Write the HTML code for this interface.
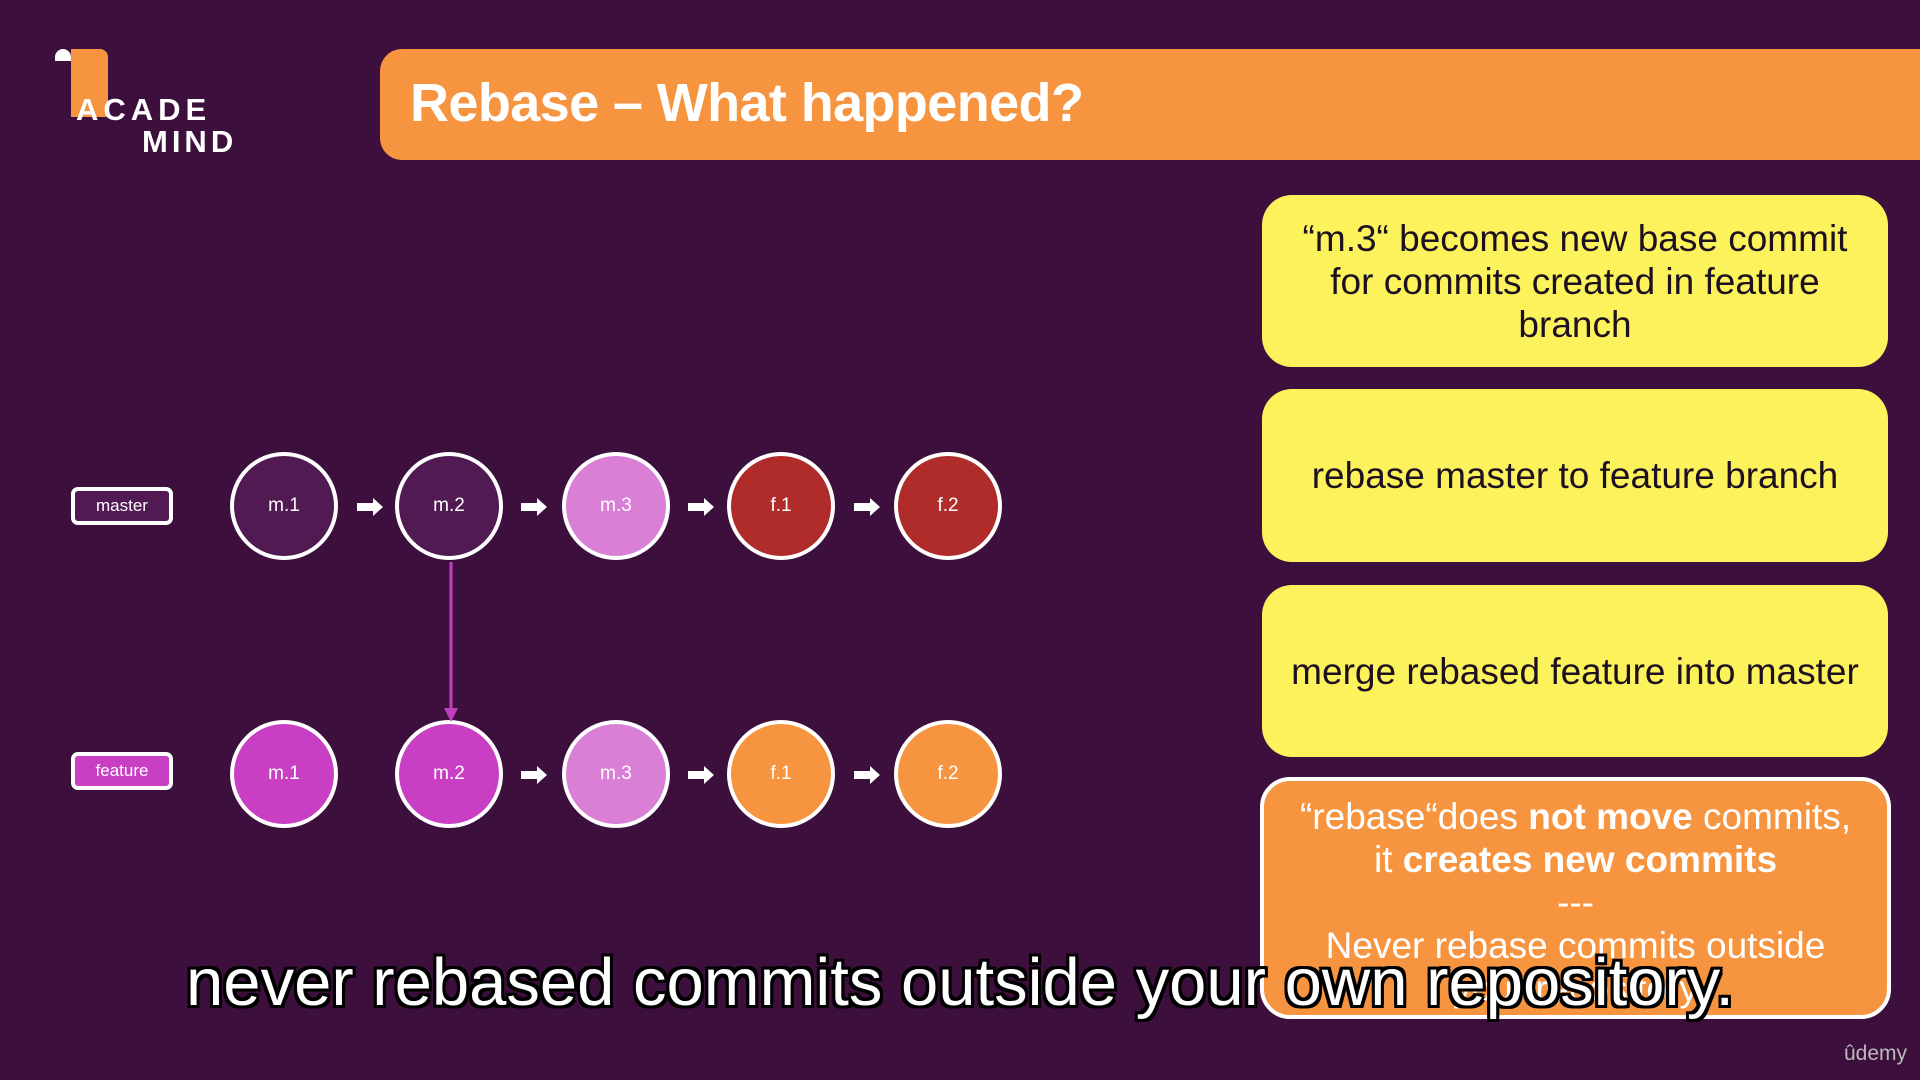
<!DOCTYPE html>
<html><head><meta charset="utf-8"><style>
*{margin:0;padding:0;box-sizing:border-box}
body{width:1920px;height:1080px;background:#3c0f3c;position:relative;overflow:hidden;font-family:"Liberation Sans",sans-serif}
.abs{position:absolute}
.title{left:380px;top:49px;width:1580px;height:111px;background:#f79440;border-radius:22px;}
.title span{position:absolute;left:30px;top:23px;font-size:54px;font-weight:bold;color:#fff;letter-spacing:-0.6px}
.c{position:absolute;width:108px;height:108px;border-radius:50%;border:4px solid #fff;color:#fff;font-size:19px;display:flex;align-items:center;justify-content:center}
.lbl{position:absolute;left:71px;width:102px;height:38px;border:4px solid #fff;border-radius:7px;color:#fff;font-size:17px;display:flex;align-items:center;justify-content:center}
.box{position:absolute;left:1262px;width:626px;border-radius:30px;background:#fcf35c;color:#1d1020;font-size:37px;display:flex;align-items:center;justify-content:center;text-align:center;line-height:43px}
.sub{position:absolute;left:0;width:1920px;top:944px;text-align:center;font-size:67px;color:#fff;text-shadow:-3px -3px 0 #000,3px -3px 0 #000,-3px 3px 0 #000,3px 3px 0 #000,0 3px 0 #000,0 -3px 0 #000,3px 0 0 #000,-3px 0 0 #000}
</style></head><body>
<div class="abs" style="left:71px;top:49px;width:37px;height:68px;background:#f79440;border-radius:0 8px 0 0"></div>
<div class="abs" style="left:55px;top:49px;width:16px;height:12px;background:#fff;border-radius:8px 8px 0 0"></div>
<div class="abs" style="left:76px;top:92px;font-size:31px;font-weight:bold;color:#fff;letter-spacing:5px">ACADE</div>
<div class="abs" style="left:142px;top:124px;font-size:31px;font-weight:bold;color:#fff;letter-spacing:4px">MIND</div>

<div class="abs title"><span>Rebase – What happened?</span></div>

<div class="lbl" style="top:487px;background:#521a52">master</div>
<div class="lbl" style="top:752px;background:#c83fc4">feature</div>

<div class="c" style="left:230px;top:452px;background:#521a52">m.1</div>
<div class="c" style="left:395px;top:452px;background:#521a52">m.2</div>
<div class="c" style="left:562px;top:452px;background:#d97fd6">m.3</div>
<div class="c" style="left:727px;top:452px;background:#b02c2a">f.1</div>
<div class="c" style="left:894px;top:452px;background:#b02c2a">f.2</div>
<div class="c" style="left:230px;top:720px;background:#c83fc4">m.1</div>
<div class="c" style="left:395px;top:720px;background:#c83fc4">m.2</div>
<div class="c" style="left:562px;top:720px;background:#d97fd6">m.3</div>
<div class="c" style="left:727px;top:720px;background:#f79440">f.1</div>
<div class="c" style="left:894px;top:720px;background:#f79440">f.2</div>

<svg class="abs" style="left:0;top:0" width="1920" height="1080">
<defs><g id="a"><polygon points="0,-4 16,-4 16,-9 26,0 16,9 16,4 0,4" fill="#fff"/></g></defs>
<use href="#a" x="357" y="507"/><use href="#a" x="521" y="507"/><use href="#a" x="688" y="507"/><use href="#a" x="854" y="507"/>
<use href="#a" x="521" y="775"/><use href="#a" x="688" y="775"/><use href="#a" x="854" y="775"/>
<line x1="451" y1="562" x2="451" y2="710" stroke="#c040c0" stroke-width="3"/>
<polygon points="444,708 458,708 451,722" fill="#c040c0"/>
</svg>

<div class="box" style="top:195px;height:172px">“m.3“ becomes new base commit<br>for commits created in feature<br>branch</div>
<div class="box" style="top:389px;height:173px">rebase master to feature branch</div>
<div class="box" style="top:585px;height:172px">merge rebased feature into master</div>
<div class="box" style="top:777px;left:1260px;width:631px;height:242px;background:#f79440;border:4px solid #fff;color:#fff;align-items:flex-start;padding-top:14px">
<div>“rebase“does <b>not move</b> commits,<br>it <b>creates new commits</b><br>---<br>Never rebase commits outside<br>your repository</div></div>

<div class="sub">never rebased commits outside your own repository.</div>
<div class="abs" style="left:1844px;top:1042px;font-size:21px;color:#bbb">ûdemy</div>
</body></html>
